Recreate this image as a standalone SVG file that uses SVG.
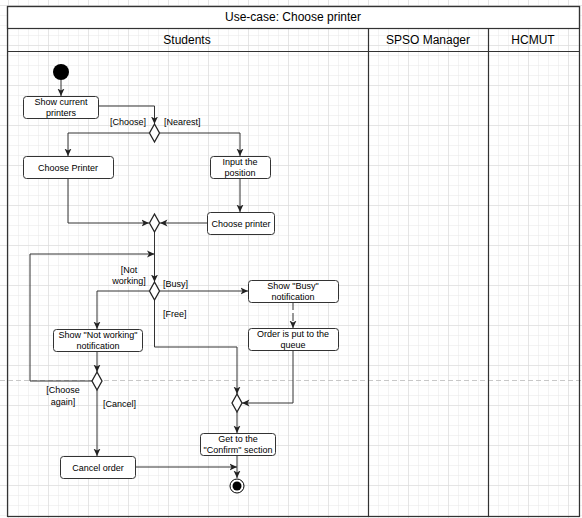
<svg xmlns="http://www.w3.org/2000/svg" width="582" height="518" viewBox="0 0 582 518">
<style>
.frame{fill:none;stroke:#333;stroke-width:1.2}
.node{fill:#fff;stroke:#333;stroke-width:1}
.dia{fill:#fff;stroke:#222;stroke-width:1.3}
.edge{fill:none;stroke:#333;stroke-width:1;marker-end:url(#arr)}
.t{font-family:"Liberation Sans",Arial,sans-serif;font-size:9px;fill:#000;text-anchor:middle}
.lbl{font-family:"Liberation Sans",Arial,sans-serif;font-size:9px;fill:#000}
.h{font-family:"Liberation Sans",Arial,sans-serif;font-size:12px;fill:#000;text-anchor:middle}
</style>
<defs>
<pattern id="minor" x="8" y="5" width="10" height="10" patternUnits="userSpaceOnUse">
<path d="M0,0 H10 M0,0 V10" fill="none" stroke="#e8e8e8" stroke-width="1"/>
</pattern>
<pattern id="major" x="8" y="5" width="40" height="40" patternUnits="userSpaceOnUse">
<path d="M0,0 H40 M0,0 V40" fill="none" stroke="#d8d8d8" stroke-width="1"/>
</pattern>
<marker id="arr" viewBox="0 0 8 8" markerWidth="8" markerHeight="8" refX="7.5" refY="4" orient="auto" markerUnits="userSpaceOnUse">
<path d="M0,0.5 L7.5,4 L0,7.5 L2,4 Z" fill="#222"/>
</marker>
</defs>
<rect width="582" height="518" fill="#fff"/>
<rect width="582" height="518" fill="url(#minor)"/>
<rect width="582" height="518" fill="url(#major)"/>
<line x1="0" y1="380.5" x2="582" y2="380.5" stroke="#c8c8c8" stroke-width="1" stroke-dasharray="5 3"/>

<g id="pool">
<rect x="7.5" y="6.5" width="572" height="22" fill="#fff" stroke="#333" stroke-width="1.2"/>
<text class="h" x="293" y="21">Use-case: Choose printer</text>
<rect class="frame" x="7.5" y="6.5" width="572" height="510"/>
<line x1="7.5" y1="51.5" x2="579.5" y2="51.5" stroke="#333" stroke-width="1.2"/>
<line x1="368.5" y1="28.5" x2="368.5" y2="516.5" stroke="#333" stroke-width="1.2"/>
<line x1="488.5" y1="28.5" x2="488.5" y2="516.5" stroke="#333" stroke-width="1.2"/>
<text class="h" x="187" y="44">Students</text>
<text class="h" x="428" y="44">SPSO Manager</text>
<text class="h" x="533" y="44">HCMUT</text>
</g>

<g id="connectors">
<path class="edge" d="M61,80 V96"/>
<path class="edge" d="M98,106 H154.5 V124"/>
<path class="edge" d="M149,133 H68 V156"/>
<path class="edge" d="M160,133 H240 V156"/>
<path class="edge" d="M240,178 V212"/>
<path class="edge" d="M68,178 V223 H149"/>
<path class="edge" d="M207,223 H160"/>
<path class="edge" d="M154.5,232 V282"/>
<path class="edge" d="M92,381 H30 V254 H154.5"/>
<path class="edge" d="M160,291 H248"/>
<path class="edge" d="M293,302 V328" stroke-dasharray="8 3"/>
<path class="edge" d="M149,291 H97 V329"/>
<path class="edge" d="M154.5,300 V347 H237 V394"/>
<path class="edge" d="M293,350 V403 H242"/>
<path class="edge" d="M237,412 V433"/>
<path class="edge" d="M237,456 V478"/>
<path class="edge" d="M97,351 V372"/>
<path class="edge" d="M97,390 V456"/>
<path class="edge" d="M136,467 H237"/>
</g>

<g id="labels">
<text class="lbl" x="146" y="125" text-anchor="end">[Choose]</text>
<text class="lbl" x="164" y="125">[Nearest]</text>
<text class="lbl" x="129" y="273" text-anchor="middle">[Not</text>
<text class="lbl" x="129" y="284" text-anchor="middle">working]</text>
<text class="lbl" x="163" y="287">[Busy]</text>
<text class="lbl" x="163" y="317">[Free]</text>
<text class="lbl" x="63" y="393" text-anchor="middle">[Choose</text>
<text class="lbl" x="63" y="405" text-anchor="middle">again]</text>
<text class="lbl" x="103" y="407">[Cancel]</text>
</g>

<g id="start"><circle cx="61" cy="72" r="8" fill="#000"/></g>

<g id="show-current-printers">
<rect class="node" x="23.5" y="96.5" width="75" height="22" rx="3"/>
<text class="t" x="61" y="105">Show current</text>
<text class="t" x="61" y="116">printers</text>
</g>

<g id="d1"><path class="dia" d="M154.5,124 L159.5,133 L154.5,142 L149.5,133 Z"/></g>

<g id="choose-printer-1">
<rect class="node" x="23.5" y="156.5" width="90" height="22" rx="3"/>
<text class="t" x="68" y="170.5">Choose Printer</text>
</g>

<g id="input-position">
<rect class="node" x="210.5" y="156.5" width="60" height="22" rx="3"/>
<text class="t" x="240" y="165">Input the</text>
<text class="t" x="240" y="176">position</text>
</g>

<g id="choose-printer-2">
<rect class="node" x="207.5" y="212.5" width="67" height="22" rx="3"/>
<text class="t" x="241" y="226.5">Choose printer</text>
</g>

<g id="d2"><path class="dia" d="M154.5,214 L159.5,223 L154.5,232 L149.5,223 Z"/></g>

<g id="d3"><path class="dia" d="M154.5,282 L159.5,291 L154.5,300 L149.5,291 Z"/></g>

<g id="show-busy">
<rect class="node" x="248.5" y="280.5" width="90" height="22" rx="3"/>
<text class="t" x="293" y="289">Show "Busy"</text>
<text class="t" x="293" y="300">notification</text>
</g>

<g id="order-queue">
<rect class="node" x="248.5" y="328.5" width="90" height="22" rx="3"/>
<text class="t" x="293" y="337">Order is put to the</text>
<text class="t" x="293" y="348">queue</text>
</g>

<g id="show-not-working">
<rect class="node" x="53.5" y="329.5" width="89" height="22" rx="3"/>
<text class="t" x="98" y="338">Show "Not working"</text>
<text class="t" x="98" y="349">notification</text>
</g>

<g id="d5"><path class="dia" d="M97,372 L102,381 L97,390 L92,381 Z"/></g>

<g id="d4"><path class="dia" d="M237,394 L242,403 L237,412 L232,403 Z"/></g>

<g id="get-confirm">
<rect class="node" x="200.5" y="433.5" width="75" height="22" rx="3"/>
<text class="t" x="238" y="442">Get to the</text>
<text class="t" x="238" y="453">"Confirm" section</text>
</g>

<g id="cancel-order">
<rect class="node" x="60.5" y="456.5" width="75" height="22" rx="3"/>
<text class="t" x="98" y="470.5">Cancel order</text>
</g>

<g id="end">
<circle cx="237" cy="486" r="7" fill="#fff" stroke="#000" stroke-width="1"/>
<circle cx="237" cy="486" r="4.5" fill="#000"/>
</g>
</svg>
